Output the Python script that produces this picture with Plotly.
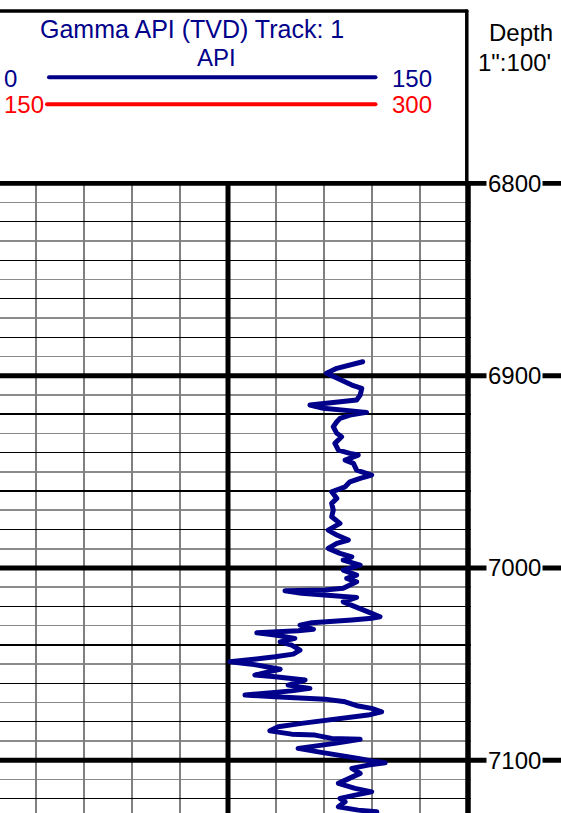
import plotly.graph_objects as go

# ---------------- data ----------------
depth = [6892.8, 6894.5, 6896.2, 6898.8, 6902.3, 6904.9, 6906.6, 6910.1, 6912.7, 6913.6,
         6914.4, 6915.3, 6917.0, 6917.9, 6918.8, 6919.1, 6920.5, 6922.2, 6924.0, 6926.6,
         6930.0, 6931.8, 6935.2, 6938.7, 6940.4, 6941.3, 6943.9, 6945.6, 6949.1, 6951.7,
         6953.4, 6955.2, 6957.8, 6960.4, 6963.8, 6966.4, 6969.9, 6973.4, 6976.8, 6980.3,
         6982.9, 6985.5, 6987.2, 6989.8, 6992.4, 6994.2, 6995.9, 6998.5, 7001.1, 7003.7,
         7005.4, 7007.2, 7008.9, 7010.6, 7011.5, 7011.8, 7011.8, 7013.2, 7014.1, 7014.6,
         7015.3, 7017.6, 7019.3, 7021.0, 7023.6, 7025.4, 7026.2, 7027.1, 7027.5, 7028.5,
         7029.7, 7031.9, 7032.7, 7033.2, 7033.7, 7034.9, 7036.6, 7038.4, 7040.1, 7042.7,
         7044.8, 7046.2, 7047.4, 7048.8, 7050.0, 7051.0, 7052.7, 7054.0, 7055.7, 7056.6,
         7057.4, 7058.3, 7060.9, 7062.6, 7063.9, 7064.9, 7066.1, 7067.0, 7067.8, 7068.2,
         7069.6, 7071.8, 7073.0, 7074.8, 7076.5, 7077.7, 7079.1, 7080.8, 7082.6, 7084.7,
         7086.4, 7086.9, 7088.6, 7089.1, 7089.1, 7091.2, 7092.1, 7093.8, 7095.6, 7097.3,
         7099.0, 7100.3, 7101.3, 7102.5, 7104.2, 7106.8, 7109.4, 7112.0, 7114.6, 7116.4,
         7118.1, 7119.8, 7121.6, 7124.2, 7125.9, 7126.8]

gamma = [117.1, 113.1, 109.0, 105.8, 110.0, 113.7, 116.8, 116.3, 115.2, 110.0,
         104.8, 100.6, 104.8, 111.0, 115.2, 118.3, 113.1, 110.0, 109.0, 107.9,
         109.0, 110.5, 108.4, 109.5, 113.1, 115.7, 111.6, 114.2, 115.2, 119.9,
         116.3, 113.1, 111.6, 107.4, 109.0, 107.4, 107.9, 107.4, 110.0, 106.3,
         109.0, 112.6, 109.0, 106.3, 110.0, 113.7, 111.0, 116.3, 111.0, 115.2,
         112.1, 115.2, 113.1, 111.0, 105.3, 99.1, 92.8, 98.0, 105.3, 111.6,
         115.2, 111.0, 113.7, 116.8, 119.9, 122.5, 119.9, 113.7, 107.4, 101.2,
         97.5, 101.7, 96.9, 90.7, 84.0, 89.7, 95.9, 91.3, 94.9, 97.5,
         95.4, 89.7, 83.4, 75.6, 82.4, 86.6, 91.3, 87.6, 83.4, 89.7,
         94.9, 99.1, 93.8, 100.6, 94.9, 87.6, 80.3, 89.7, 99.1, 105.3,
         111.6, 115.7, 119.9, 123.0, 118.8, 112.6, 105.3, 98.0, 90.7, 88.1,
         94.9, 102.2, 107.4, 111.6, 116.3, 108.4, 103.2, 96.9, 103.2, 110.5,
         115.7, 119.9, 124.1, 118.8, 113.7, 116.3, 112.6, 109.5, 114.7, 119.9,
         114.7, 110.0, 111.6, 109.5, 115.7, 121.5]

depth_labels = [6800, 6900, 7000, 7100]
track_title = "Gamma API (TVD) Track: 1"
track_unit = "API"
scale_blue = ["0", "150"]
scale_red = ["150", "300"]
depth_title = "Depth"
depth_scale = "1\":100'"

# ---------------- layout geometry ----------------
W, H = 561, 813
ML, MR, MT, MB = 0, 90, 181, 0
PW, PH = W - ML - MR, H - MT - MB
X_RANGE = [3.75, 150.9375]
Y_RANGE = [7127.4, 6798.8]

NAVY = "rgb(0,0,139)"
RED = "#ff0000"
FONT = "Liberation Sans, Arial, Helvetica, sans-serif"


def px(xp):
    return (xp - ML) / PW


def py(yp):
    return (H - MB - yp) / PH


fig = go.Figure()
fig.add_trace(go.Scatter(x=gamma, y=depth, mode="lines",
                         line=dict(color=NAVY, width=5), hoverinfo="skip",
                         showlegend=False))

shapes = []
# thick 100 ft lines inside the track
for d in depth_labels:
    shapes.append(dict(type="line", xref="x", yref="y", x0=X_RANGE[0] - 1, x1=150,
                       y0=d, y1=d, line=dict(color="black", width=5), layer="between"))
    # continuation through the depth track
    shapes.append(dict(type="line", xref="paper", yref="y", x0=px(468), x1=px(W + 2),
                       y0=d, y1=d, line=dict(color="black", width=5), layer="above"))
# thick verticals at mid track and right border
for xv, wd in [(75, 5), (150, 5.5)]:
    shapes.append(dict(type="line", xref="x", yref="y", x0=xv, x1=xv,
                       y0=Y_RANGE[1], y1=Y_RANGE[0], line=dict(color="black", width=wd),
                       layer="between"))
# header box
shapes.append(dict(type="line", xref="paper", yref="paper", x0=px(-4), x1=px(466.8),
                   y0=py(11), y1=py(11), line=dict(color="black", width=3.5)))
shapes.append(dict(type="line", xref="paper", yref="paper", x0=px(466.8), x1=px(466.8),
                   y0=py(11), y1=py(185), line=dict(color="black", width=3.5)))
# scale lines
shapes.append(dict(type="line", xref="paper", yref="paper", x0=px(49), x1=px(375.5),
                   y0=py(77.3), y1=py(77.3), line=dict(color=NAVY, width=4)))
shapes.append(dict(type="line", xref="paper", yref="paper", x0=px(47), x1=px(375.5),
                   y0=py(104.3), y1=py(104.3), line=dict(color=RED, width=4)))

annotations = []


def ann(text, xp, yp, color, size=24, xanchor="center"):
    annotations.append(dict(text=text, xref="paper", yref="paper", x=px(xp), y=py(yp),
                            xanchor=xanchor, yanchor="middle", showarrow=False,
                            font=dict(family=FONT, size=size, color=color)))


ann(track_title, 192, 28.7, NAVY, size=25)
ann(track_unit, 216.5, 57.5, NAVY)
ann(scale_blue[0], 10, 78, NAVY)
ann(scale_blue[1], 411.5, 78.3, NAVY)
ann(scale_red[0], 24, 104.7, RED)
ann(scale_red[1], 411.5, 104.3, RED)
ann(depth_title, 520.5, 32.5, "black")
ann(depth_scale, 514.5, 63, "black")

for d in depth_labels:
    annotations.append(dict(text=str(d), xref="paper", yref="y", x=px(514.5), y=d,
                            xanchor="center", yanchor="middle", showarrow=False,
                            bgcolor="white", borderpad=1,
                            font=dict(family=FONT, size=24, color="black")))

fig.update_layout(
    width=W, height=H, autosize=False,
    margin=dict(l=ML, r=MR, t=MT, b=MB, pad=0),
    paper_bgcolor="white", plot_bgcolor="white",
    showlegend=False,
    shapes=shapes, annotations=annotations,
    xaxis=dict(range=X_RANGE, tick0=0, dtick=15, showgrid=True,
               gridcolor="#808080", gridwidth=1.5, showticklabels=False,
               ticks="", zeroline=False, showline=False, fixedrange=True),
    yaxis=dict(range=Y_RANGE, tick0=6800, dtick=20, showgrid=True,
               gridcolor="black", gridwidth=1.3, showticklabels=False,
               ticks="", zeroline=False, showline=False, fixedrange=True,
               minor=dict(tick0=6800, dtick=10, showgrid=True,
                          gridcolor="#8a8a8a", gridwidth=1.6)),
)

post = (
    "document.body.style.margin='0';"
    "document.body.style.overflow='hidden';"
    "var s=document.createElement('style');"
    "s.textContent='.scatterlayer .js-line{stroke-linejoin:round !important;"
    "stroke-linecap:round !important;} .layer-above .shapelayer path{stroke-linecap:round;}';"
    "document.head.appendChild(s);"
)
fig.write_html("out.html", config={"displayModeBar": False, "staticPlot": True},
               post_script=post)
